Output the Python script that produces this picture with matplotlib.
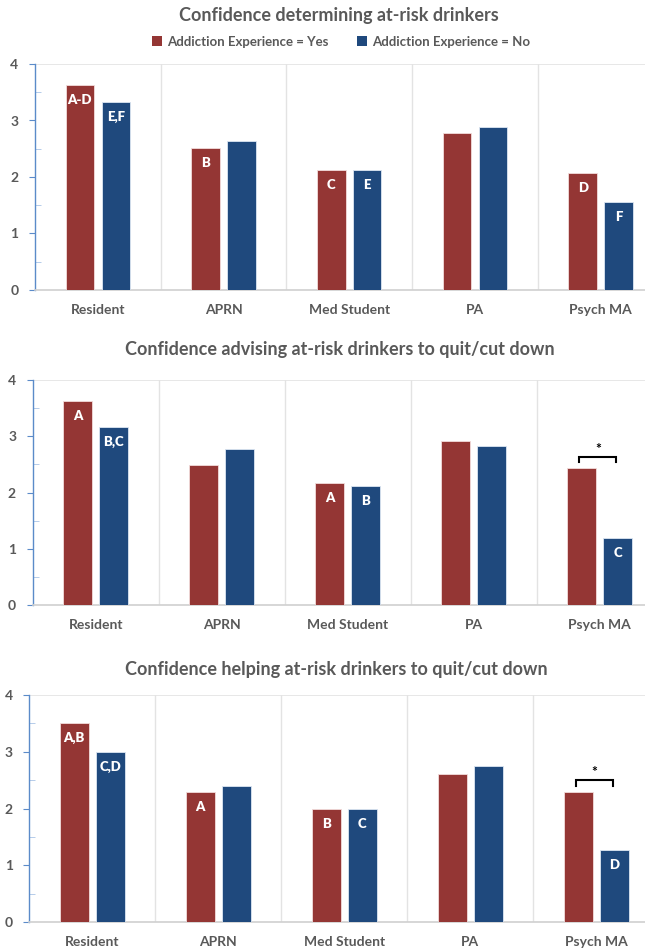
import matplotlib
matplotlib.use("Agg")
import matplotlib.pyplot as plt
from matplotlib.patches import Patch
from matplotlib.ticker import MultipleLocator

plt.rcParams["font.family"] = ["Lato", "DejaVu Sans"]

categories = ["Resident", "APRN", "Med Student", "PA", "Psych MA"]

determining_yes = [3.63, 2.52, 2.12, 2.78, 2.07]
determining_no = [3.32, 2.63, 2.12, 2.89, 1.55]
determining_yes_labels = ["A-D", "B", "C", "", "D"]
determining_no_labels = ["E,F", "", "E", "", "F"]

advising_yes = [3.63, 2.49, 2.18, 2.92, 2.43]
advising_no = [3.16, 2.77, 2.11, 2.83, 1.19]
advising_yes_labels = ["A", "", "A", "", ""]
advising_no_labels = ["B,C", "", "B", "", "C"]

helping_yes = [3.50, 2.29, 2.00, 2.61, 2.29]
helping_no = [3.00, 2.40, 2.00, 2.75, 1.27]
helping_yes_labels = ["A,B", "A", "B", "", ""]
helping_no_labels = ["C,D", "", "C", "", "D"]

titles = [
    "Confidence determining at-risk drinkers",
    "Confidence advising at-risk drinkers to quit/cut down",
    "Confidence helping at-risk drinkers to quit/cut down",
]
legend_labels = ["Addiction Experience = Yes", "Addiction Experience = No"]

RED = "#943634"
BLUE = "#1F497D"
GRAY = "#595959"
GRID = "#E3E3E3"
AXBLUE = "#5B8BC9"

W, H = 645, 948
fig = plt.figure(figsize=(W / 100, H / 100), dpi=100)

# pixel geometry of each panel: left, top, bottom, category width, title y, title x
panels = [
    dict(yes=determining_yes, no=determining_no, yl=determining_yes_labels,
         nl=determining_no_labels, sig=False, left=35, top=64, bottom=290,
         cw=125.7, ty=15, tx=339),
    dict(yes=advising_yes, no=advising_no, yl=advising_yes_labels,
         nl=advising_no_labels, sig=True, left=32.7, top=380, bottom=605.3,
         cw=126, ty=349, tx=340),
    dict(yes=helping_yes, no=helping_no, yl=helping_yes_labels,
         nl=helping_no_labels, sig=True, left=29.3, top=695, bottom=922.3,
         cw=126, ty=669, tx=336),
]

half_gap = 0.143
bar_w = 0.227

for p, title in zip(panels, titles):
    ax = fig.add_axes([p["left"] / W, 1 - p["bottom"] / H,
                       5 * p["cw"] / W, (p["bottom"] - p["top"]) / H])
    centers = [i + 0.5 for i in range(len(categories))]
    xr = [c - half_gap for c in centers]
    xb = [c + half_gap for c in centers]
    ax.bar(xr, p["yes"], width=bar_w, color=RED, edgecolor="#F2DCDB",
           linewidth=0.6, zorder=3)
    ax.bar(xb, p["no"], width=bar_w, color=BLUE, edgecolor="#DCE6F2",
           linewidth=0.6, zorder=3)

    for x, v, lab in zip(xr, p["yes"], p["yl"]):
        if lab:
            ax.annotate(lab, (x, v), xytext=(0, -15), textcoords="offset pixels",
                        ha="center", va="center", color="white",
                        fontweight="heavy", fontsize=9.5, zorder=4)
    for x, v, lab in zip(xb, p["no"], p["nl"]):
        if lab:
            ax.annotate(lab, (x, v), xytext=(0, -15), textcoords="offset pixels",
                        ha="center", va="center", color="white",
                        fontweight="heavy", fontsize=9.5, zorder=4)

    if p["sig"]:
        i = len(categories) - 1
        top = max(p["yes"][i], p["no"][i]) + 0.21
        x0, x1 = xr[i] - 0.02, xb[i] - 0.01
        ax.plot([x0, x0, x1, x1], [top - 0.1, top, top, top - 0.1],
                color="black", lw=1.5, zorder=4, solid_joinstyle="miter")
        ax.text((x0 + x1) / 2, top + 0.14, "*", ha="center", va="center",
                fontsize=10, fontweight="bold", color="black")

    ax.set_xlim(0, 5)
    ax.set_ylim(0, 4)
    for b in range(1, 5):
        ax.axvline(b, color=GRID, lw=1, zorder=1)
    ax.axhline(4, color=GRID, lw=1.2, zorder=1)

    for s in ["top", "right"]:
        ax.spines[s].set_visible(False)
    ax.spines["left"].set_color(AXBLUE)
    ax.spines["left"].set_linewidth(1.0)
    ax.spines["bottom"].set_color("#D0D0D0")
    ax.spines["bottom"].set_linewidth(1.2)

    ax.yaxis.set_major_locator(MultipleLocator(1))
    ax.yaxis.set_minor_locator(MultipleLocator(0.5))
    ax.tick_params(axis="y", which="major", direction="out", length=4,
                   color=AXBLUE, labelcolor=GRAY, labelsize=10, pad=8)
    ax.tick_params(axis="y", which="minor", direction="in", length=4,
                   color="#A9C4E6")
    for t in ax.get_yticklabels():
        t.set_fontweight("bold")

    ax.set_xticks(centers)
    ax.set_xticklabels(categories, fontweight="bold", color=GRAY, fontsize=10)
    ax.tick_params(axis="x", length=0, pad=10)

    fig.text(p["tx"] / W, 1 - p["ty"] / H, title, ha="center", va="center",
             fontsize=13, fontweight="bold", color=GRAY)

handles = [Patch(facecolor=RED, edgecolor="none"),
           Patch(facecolor=BLUE, edgecolor="none")]
fig.legend(handles, legend_labels, loc="center", ncol=2,
           bbox_to_anchor=(341 / W, 1 - 41.7 / H), frameon=False,
           handlelength=0.75, handleheight=0.75, handletextpad=0.35,
           columnspacing=2.2,
           prop=dict(family=["Lato", "DejaVu Sans"], weight="bold", size=9.5),
           labelcolor=GRAY)

fig.savefig("out.png", dpi=100)
